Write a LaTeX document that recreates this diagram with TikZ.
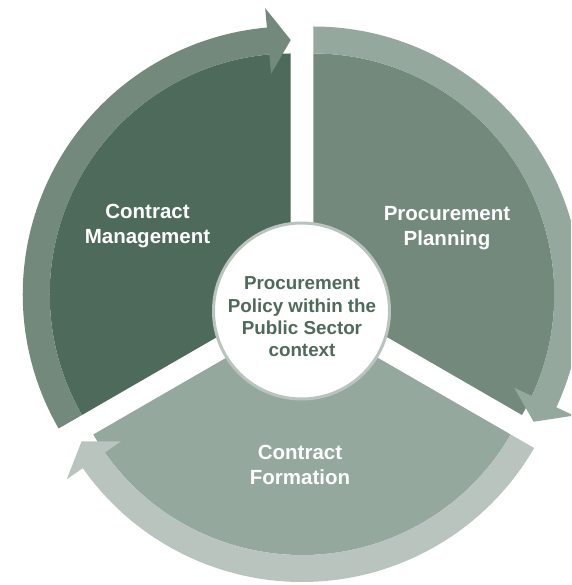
\documentclass[tikz,border=0pt]{standalone}
\usepackage{fontspec}
\setmainfont{Liberation Sans}
\usetikzlibrary{calc}
\definecolor{deepGreen}{RGB}{78, 106, 91}
\definecolor{midGreen}{RGB}{114, 137, 124}
\definecolor{paleGreen}{RGB}{149, 168, 157}
\definecolor{mistGreen}{RGB}{184, 196, 189}

\begin{document}
\begin{tikzpicture}[
    x=1pt, y=1pt,
    phase/.style={
        align=center,
        inner sep=0pt,
        font=\fontsize{20.5}{25}\selectfont\bfseries,
        text=white
    },
    hub/.style={
        circle,
        minimum size=176pt,
        inner sep=0pt,
        fill=white,
        draw=mistGreen,
        line width=3pt
    },
    hubtext/.style={
        align=center,
        inner sep=0pt,
        font=\fontsize{18.8}{22.4}\selectfont\bfseries,
        text=deepGreen
    }
]

% Frame
\useasboundingbox (-302,-284) rectangle (269,301);
\clip (-302,-284) rectangle (269,301);

% Exploded centres of the three segments
\coordinate (cM) at (150:13);
\coordinate (cP) at (30:13);
\coordinate (cF) at (270:13);

% Contract Management segment
\fill[deepGreen] (cM) -- ($(cM)+(90:241)$) arc[start angle=90, end angle=210, radius=241] -- cycle;
\fill[midGreen] ($(cM)+(210:268)$) arc[start angle=210, end angle=95.1, radius=268]
    -- ($(cM)+(95.1:287.5)$) -- ($(cM)+(90:254.5)$) -- ($(cM)+(95.1:221.5)$)
    -- ($(cM)+(95.1:241)$) arc[start angle=95.1, end angle=210, radius=241] -- cycle;

% Procurement Planning segment
\fill[midGreen] (cP) -- ($(cP)+(-30:241)$) arc[start angle=-30, end angle=90, radius=241] -- cycle;
\fill[paleGreen] ($(cP)+(90:268)$) arc[start angle=90, end angle=-24.9, radius=268]
    -- ($(cP)+(-24.9:287.5)$) -- ($(cP)+(-30:254.5)$) -- ($(cP)+(-24.9:221.5)$)
    -- ($(cP)+(-24.9:241)$) arc[start angle=-24.9, end angle=90, radius=241] -- cycle;

% Contract Formation segment
\fill[paleGreen] (cF) -- ($(cF)+(210:241)$) arc[start angle=210, end angle=330, radius=241] -- cycle;
\fill[mistGreen] ($(cF)+(330:268)$) arc[start angle=330, end angle=215.1, radius=268]
    -- ($(cF)+(215.1:287.5)$) -- ($(cF)+(210:254.5)$) -- ($(cF)+(215.1:221.5)$)
    -- ($(cF)+(215.1:241)$) arc[start angle=215.1, end angle=330, radius=241] -- cycle;

% Labels
\node[phase] (mgmt) at (-154.5,75) {Contract\\Management};
\node[phase] (plan) at (145,73) {Procurement\\Planning};
\node[phase] (form) at (-2,-164) {Contract\\Formation};

% Centre
\node[hub] (hub) at (-0.5,-10) {};
\node[hubtext] (policy) at (0,-16) {Procurement\\Policy within the\\Public Sector\\context};

\end{tikzpicture}
\end{document}
